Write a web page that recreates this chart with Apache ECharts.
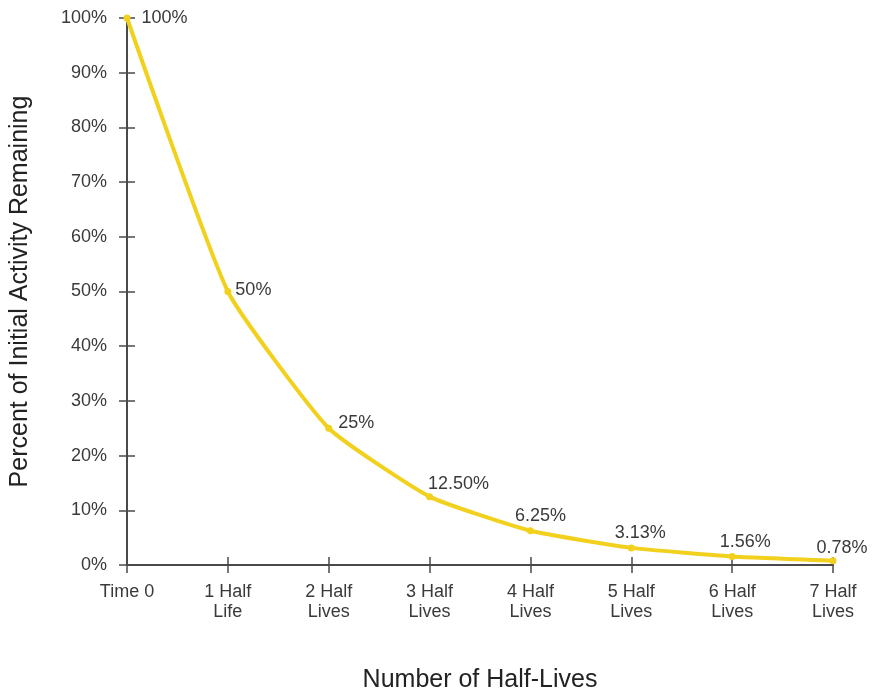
<!DOCTYPE html>
<html><head><meta charset="utf-8">
<script src="https://cdn.jsdelivr.net/npm/echarts@6/dist/echarts.min.js"></script>
<style>html,body{margin:0;padding:0;background:#fff}#c{width:877px;height:694px}</style>
</head><body><div id="c"></div>
<script>
const categories = ['Time 0', '1 Half\nLife', '2 Half\nLives', '3 Half\nLives', '4 Half\nLives', '5 Half\nLives', '6 Half\nLives', '7 Half\nLives'];
const values = [100, 50, 25, 12.5, 6.25, 3.13, 1.56, 0.78];
const valueLabels = ['100%', '50%', '25%', '12.50%', '6.25%', '3.13%', '1.56%', '0.78%'];
const yTicks = [0, 10, 20, 30, 40, 50, 60, 70, 80, 90, 100];

const font = 'Liberation Sans, Arial, sans-serif';
const labelOffsets = [[6, 0], [-1, -1], [1, -5], [-10, -13], [-24, -15], [-25, -15], [-21, -14], [-25, -13]];
const data = values.map((v, i) => ({
  value: v,
  label: {show: true, position: 'right', offset: labelOffsets[i], formatter: valueLabels[i],
    color: '#3a3a3a', fontSize: 18, fontFamily: font}
}));

const tickStyle = {color: '#4a4a4a', width: 1.5};
const chart = echarts.init(document.getElementById('c'));
chart.setOption({
  backgroundColor: '#fff',
  animation: false,
  grid: {left: 127, right: 44, top: 18, bottom: 129, containLabel: false, outerBoundsMode: 'none'},
  xAxis: [{
    type: 'category', data: categories, boundaryGap: false,
    axisLine: {show: true, lineStyle: {color: '#4a4a4a', width: 2}},
    axisTick: {show: true, length: 8, alignWithLabel: true, lineStyle: tickStyle},
    axisLabel: {color: '#3a3a3a', fontSize: 18, fontFamily: font, lineHeight: 20, margin: 17, interval: 0},
    splitLine: {show: false},
    name: 'Number of Half-Lives', nameLocation: 'middle', nameGap: 103,
    nameTextStyle: {color: '#222', fontSize: 25, fontFamily: font}
  }, {
    type: 'category', data: categories, boundaryGap: false, position: 'bottom',
    axisLine: {show: false},
    axisTick: {show: true, inside: true, length: 8, lineStyle: tickStyle},
    axisLabel: {show: false}, splitLine: {show: false}
  }],
  yAxis: [{
    type: 'value', min: 0, max: 100, interval: 10,
    axisLine: {show: true, lineStyle: {color: '#4a4a4a', width: 2}},
    axisTick: {show: true, length: 8, lineStyle: tickStyle},
    axisLabel: {color: '#3a3a3a', fontSize: 18, fontFamily: font, margin: 20,
      formatter: v => yTicks.includes(v) ? v + '%' : ''},
    splitLine: {show: false},
    name: 'Percent of Initial Activity Remaining', nameLocation: 'middle', nameGap: 94,
    nameTextStyle: {color: '#222', fontSize: 25, fontFamily: font}
  }, {
    type: 'value', min: 0, max: 100, interval: 10, position: 'left',
    axisLine: {show: false},
    axisTick: {show: true, inside: true, length: 8, lineStyle: tickStyle},
    axisLabel: {show: false}, splitLine: {show: false}
  }],
  series: [{
    type: 'line', data: data, smooth: 0.15,
    xAxisIndex: 0, yAxisIndex: 0,
    symbol: 'circle', symbolSize: 7,
    lineStyle: {color: '#F2D11E', width: 4},
    itemStyle: {color: '#F2D11E'},
    z: 5
  }]
});
</script></body></html>
